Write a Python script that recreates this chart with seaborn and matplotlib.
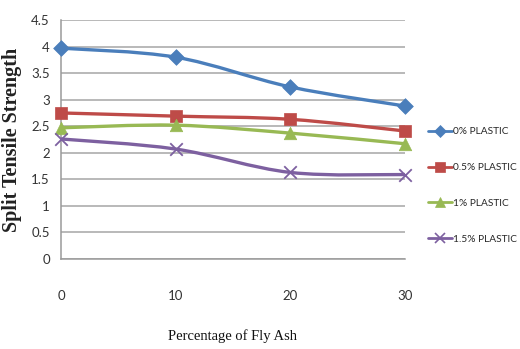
import matplotlib
matplotlib.use("Agg")
import matplotlib.pyplot as plt
from matplotlib.path import Path
from matplotlib.patches import PathPatch
from matplotlib.lines import Line2D
import numpy as np
import pandas as pd
import seaborn as sns

# Split tensile strength against fly ash content, one series per plastic dosage
fly_ash = [0, 10, 20, 30]
plastic_0 = [3.97, 3.80, 3.24, 2.88]
plastic_05 = [2.75, 2.69, 2.63, 2.41]
plastic_1 = [2.47, 2.52, 2.37, 2.17]
plastic_15 = [2.26, 2.07, 1.63, 1.59]
series_names = ["0% PLASTIC", "0.5% PLASTIC", "1% PLASTIC", "1.5% PLASTIC"]
y_ticks = [0, 0.5, 1, 1.5, 2, 2.5, 3, 3.5, 4, 4.5]
y_tick_labels = ["0", "0.5", "1", "1.5", "2", "2.5", "3", "3.5", "4", "4.5"]
x_ticks = [0, 10, 20, 30]

colors = ["#4a7ebb", "#be4b48", "#98b954", "#7d60a0"]
markers = ["D", "s", "^", "x"]
marker_sizes = [8, 9, 9, 9]

df = pd.DataFrame({
    "fly_ash": fly_ash * 4,
    "strength": plastic_0 + plastic_05 + plastic_1 + plastic_15,
    "series": [s for s in series_names for _ in fly_ash],
})

sns.set_style("white")
narrow = ["Lato", "DejaVu Sans"]
serif = ["Liberation Serif", "DejaVu Serif"]

fig = plt.figure(figsize=(5.2, 3.49), dpi=100)
ax = fig.add_axes([61 / 520, 90 / 349, 344 / 520, 239 / 349])


def smooth_path(xs, ys):
    """Cubic Bezier path through the points (Catmull-Rom style smoothing)."""
    pts = np.column_stack([xs, ys]).astype(float)
    n = len(pts)
    verts = [pts[0]]
    codes = [Path.MOVETO]
    for i in range(n - 1):
        p_prev = pts[max(i - 1, 0)]
        p0, p1 = pts[i], pts[i + 1]
        p_next = pts[min(i + 2, n - 1)]
        c1 = p0 + (p1 - p_prev) / 6.0
        c2 = p1 - (p_next - p0) / 6.0
        verts += [c1, c2, p1]
        codes += [Path.CURVE4] * 3
    return Path(verts, codes)


# smoothed connecting lines
for name, color in zip(series_names, colors):
    sub = df[df["series"] == name]
    patch = PathPatch(smooth_path(sub["fly_ash"], sub["strength"]),
                      facecolor="none", edgecolor=color, lw=2.4,
                      capstyle="round", joinstyle="round", zorder=3)
    ax.add_patch(patch)

# markers at the measured points
for name, color, m, ms in zip(series_names, colors, markers, marker_sizes):
    sub = df[df["series"] == name]
    if m == "x":
        sns.scatterplot(data=sub, x="fly_ash", y="strength", marker=m,
                        s=ms ** 2, color=color, linewidth=1.3, ax=ax,
                        zorder=4, clip_on=False, legend=False)
    else:
        sns.scatterplot(data=sub, x="fly_ash", y="strength", marker=m,
                        s=ms ** 2, color=color, edgecolor=color, linewidth=0.5,
                        ax=ax, zorder=4, clip_on=False, legend=False)

ax.set_xlim(0, 30)
ax.set_ylim(0, 4.5)
ax.set_xticks(x_ticks)
ax.set_xticklabels([str(v) for v in x_ticks], fontfamily=narrow, fontsize=9.5,
                   color="#333333")
ax.set_yticks(y_ticks)
ax.set_yticklabels(y_tick_labels, fontfamily=narrow, fontsize=9.5, color="#333333")
ax.tick_params(axis="x", length=0, pad=22)
ax.tick_params(axis="y", length=0, pad=8)

ax.grid(axis="y", color="#a6a6a6", lw=1.1)
ax.grid(axis="x", visible=False)
for side in ["top", "right"]:
    ax.spines[side].set_visible(False)
for side in ["left", "bottom"]:
    ax.spines[side].set_color("#9a9a9a")
    ax.spines[side].set_linewidth(1.1)

ax.set_xlabel("Percentage of Fly Ash", fontfamily=serif, fontsize=10.5,
              color="#111111", labelpad=20)
ax.set_ylabel("Split Tensile Strength", fontfamily=serif, fontweight="bold",
              fontsize=14.5, color="#222222", labelpad=7)

handles = [
    Line2D([0], [0], color=c, lw=2.0, marker=m, markersize=ms * 0.75,
           markeredgewidth=1.2 if m == "x" else 0.5, markeredgecolor=c)
    for c, m, ms in zip(colors, markers, marker_sizes)
]
fig.legend(handles, series_names, loc="upper left",
           bbox_to_anchor=(428 / 520, 1 - 127 / 349), frameon=False,
           prop={"family": narrow, "size": 7.3}, handlelength=2.35,
           handletextpad=0.08, labelspacing=2.65, borderpad=0,
           borderaxespad=0)

fig.savefig("out.png", dpi=100)
